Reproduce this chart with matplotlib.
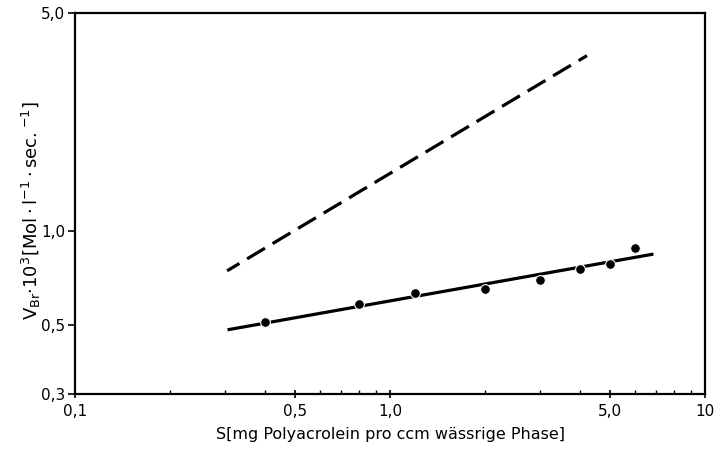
import matplotlib
matplotlib.use("Agg")
import matplotlib.pyplot as plt
from matplotlib.ticker import FixedLocator, NullFormatter, NullLocator

# Data (log-log)
s_points = [0.40, 0.80, 1.20, 2.00, 3.00, 4.00, 5.00, 6.00]
v_points = [0.51, 0.583, 0.634, 0.652, 0.697, 0.756, 0.782, 0.879]

fit_x = [0.305, 6.86]
fit_y = [0.482, 0.843]

dash_x = [0.304, 4.22]
dash_y = [0.745, 3.65]

x_ticks = [0.1, 0.5, 1.0, 5.0, 10]
x_ticklabels = ["0,1", "0,5", "1,0", "5,0", "10"]
x_minor = [0.2, 0.3, 0.4, 0.6, 0.7, 0.8, 0.9, 2, 3, 4, 6, 7, 8, 9]
y_ticks = [0.3, 0.5, 1.0, 5.0]
y_ticklabels = ["0,3", "0,5", "1,0", "5,0"]

fig = plt.figure(figsize=(7.14, 4.54), dpi=100)
ax = fig.add_axes([75/714, 1 - 394/454, (705-75)/714, (394-13)/454])
ax.set_xscale("log")
ax.set_yscale("log")
ax.set_xlim(0.1, 10)
ax.set_ylim(0.3, 5.0)

ax.plot(dash_x, dash_y, color="black", lw=2.3, linestyle=(2.0, (6.5, 2.8)),
        dash_capstyle="butt")
ax.plot(fit_x, fit_y, color="black", lw=2.3, solid_capstyle="butt")
ax.plot(s_points, v_points, "o", color="black", markersize=7.0,
        markeredgecolor="white", markeredgewidth=0.8, zorder=3)

ax.xaxis.set_major_locator(FixedLocator(x_ticks))
ax.set_xticklabels(x_ticklabels)
ax.xaxis.set_minor_locator(FixedLocator(x_minor))
ax.xaxis.set_minor_formatter(NullFormatter())
ax.yaxis.set_major_locator(FixedLocator(y_ticks))
ax.set_yticklabels(y_ticklabels)
ax.yaxis.set_minor_locator(NullLocator())

for sp in ax.spines.values():
    sp.set_linewidth(1.6)

ax.tick_params(axis="x", which="major", direction="inout", length=6, width=1.2,
               labelsize=11, pad=4)
ax.tick_params(axis="x", which="minor", direction="in", length=3, width=1.0)
ax.tick_params(axis="y", which="major", direction="out", length=5, width=1.2,
               labelsize=11, pad=2)

ax.set_xlabel("S[mg Polyacrolein pro ccm wässrige Phase]", fontsize=11.5, labelpad=6)
fig.text(0.044, 0.535,
         r"V$_{\mathrm{Br}}$$\cdot$10$^3$$\left[\mathrm{Mol}\cdot\mathrm{l}^{-1}\cdot\mathrm{sec.}^{-1}\right]$",
         rotation=90, fontsize=13, ha="center", va="center")

fig.savefig("out.png", dpi=100, facecolor="white")
